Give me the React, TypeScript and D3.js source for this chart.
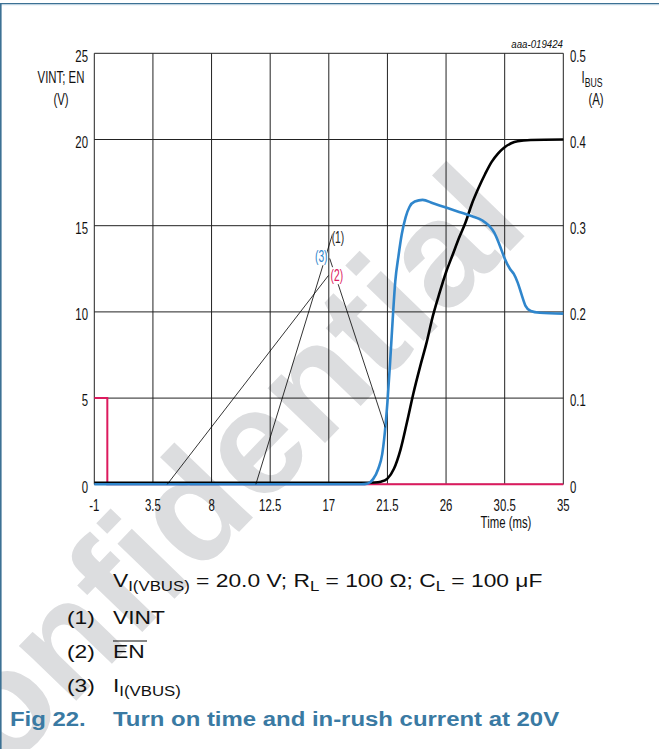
import React from 'react';
import * as d3 from 'd3';

// ---------- data ----------
const xTicks = [-1, 3.5, 8, 12.5, 17, 21.5, 26, 30.5, 35];
const xTickLabels = ['-1', '3.5', '8', '12.5', '17', '21.5', '26', '30.5', '35'];
const yLeftTicks = [0, 5, 10, 15, 20, 25];
const yLeftLabels = ['0', '5', '10', '15', '20', '25'];
const yRightTicks = [0, 0.1, 0.2, 0.3, 0.4, 0.5];
const yRightLabels = ['0', '0.1', '0.2', '0.3', '0.4', '0.5'];

// EN (V)
const enT = [-1, 0, 0, 35];
const enV = [5, 5, 0, 0];

// VINT (V)
const vintT = [-1, 19.5, 20.5, 21, 21.5, 22, 22.5, 23, 23.5, 24, 24.5, 25, 25.5, 26, 26.5, 27, 27.5, 28, 28.5, 29, 29.5, 30, 30.5, 31, 31.5, 32.5, 35];
const vintV = [0.08, 0.08, 0.1, 0.15, 0.33, 0.9, 2.0, 3.6, 5.3, 6.8, 8.2, 9.8, 11.1, 12.3, 13.3, 14.3, 15.2, 16.3, 17.2, 18.0, 18.7, 19.2, 19.55, 19.78, 19.9, 19.97, 20];

// I(VBUS) (A)
const ibusT = [-1, 19.5, 20, 20.4, 20.8, 21.1, 21.3, 21.5, 21.7, 21.9, 22.1, 22.35, 22.6, 22.9, 23.2, 23.6, 24.2, 25, 26, 27, 28, 28.8, 29.3, 29.7, 30.1, 30.5, 30.9, 31.2, 31.5, 31.8, 32.1, 32.5, 33.2, 35];
const ibusA = [0, 0, 0.001, 0.006, 0.018, 0.035, 0.06, 0.095, 0.14, 0.19, 0.235, 0.265, 0.29, 0.31, 0.322, 0.328, 0.33, 0.326, 0.321, 0.316, 0.311, 0.306, 0.3, 0.292, 0.278, 0.262, 0.25, 0.244, 0.234, 0.22, 0.207, 0.201, 0.199, 0.198];

// callouts (in time / left-axis volt units)
const calloutLabels = ['(1)', '(3)', '(2)'];
const calloutColors = ['#222222', '#2f86cc', '#dc1a5e'];
const calloutLabelT = [17.7, 16.42, 17.62];
const calloutLabelV = [14.27, 13.2, 12.1];
const calloutTargetT = [11.4, 21.33, 4.6];
const calloutTargetV = [0, 3.3, 0];
const calloutStartT = [17.3, 17.07, 16.98];
const calloutStartV = [14.55, 13.1, 12.12];

const W = 659;
const H = 749;
const FONT = '"Liberation Sans", Arial, Helvetica, sans-serif';

const x = d3.scaleLinear().domain([-1, 35]).range([94.3, 563.3]);
const y = d3.scaleLinear().domain([0, 25]).range([484.3, 53.3]);
const yR = d3.scaleLinear().domain([0, 0.5]).range([484.3, 53.3]);

type TP = {
  x: number; y: number; sx?: number; size: number; anchor?: 'start' | 'middle' | 'end';
  fill?: string; weight?: string; italic?: boolean; children?: React.ReactNode;
};
const T = ({ x, y, sx = 1, size, anchor = 'start', fill = '#111', weight = 'normal', italic = false, children }: TP) => (
  <g transform={`translate(${x},${y}) scale(${sx},1)`}>
    <text x={0} y={0} fontFamily={FONT} fontSize={size} textAnchor={anchor} fill={fill} fontWeight={weight}
      fontStyle={italic ? 'italic' : 'normal'}>{children}</text>
  </g>
);

export default function App() {
  const mk = (ts: number[], vs: number[], ys: d3.ScaleLinear<number, number>, curve: d3.CurveFactory) =>
    d3.line<number>().x((_, i) => x(ts[i])).y((_, i) => ys(vs[i])).curve(curve)(ts) || '';

  const enPath = mk(enT, enV, y, d3.curveLinear);
  const vintPath = mk(vintT, vintV, y, d3.curveMonotoneX);
  const ibusPath = mk(ibusT, ibusA, yR, d3.curveMonotoneX);

  const x0 = x(-1), x1 = x(35), y0 = y(0), y1 = y(25);
  const CS = 0.67;  // chart text horizontal scale
  const LS = 1.2;   // legend text horizontal scale
  const LF = 19;    // legend font size
  const SF = 14;    // legend subscript size

  return (
    <svg width={W} height={H} viewBox={`0 0 ${W} ${H}`} style={{ position: 'absolute', left: 0, top: 0, background: '#fff' }}>
      <rect x={0} y={0} width={W} height={H} fill="#fff" />
      {/* watermark */}
      <text transform="translate(-70,852) rotate(-46)" fontFamily={FONT} fontWeight="bold" fontSize={150} fill="#dcdddf">Confidential</text>

      {/* grid */}
      {xTicks.map((t, i) => (
        <line key={'vx' + i} x1={x(t)} x2={x(t)} y1={y1} y2={y0} stroke="#222" strokeWidth={1} />
      ))}
      {yLeftTicks.map((v, i) => (
        <line key={'hy' + i} x1={x0} x2={x1} y1={y(v)} y2={y(v)} stroke="#222" strokeWidth={1} />
      ))}

      {/* curves */}
      <path d={enPath} fill="none" stroke="#dc1a5e" strokeWidth={2} />
      <path d={vintPath} fill="none" stroke="#000" strokeWidth={2.6} />
      <path d={ibusPath} fill="none" stroke="#2f86cc" strokeWidth={2.6} />

      {/* callouts */}
      {calloutLabels.map((l, i) => (
        <line key={'cl' + i} x1={x(calloutStartT[i])} y1={y(calloutStartV[i])} x2={x(calloutTargetT[i])} y2={y(calloutTargetV[i])}
          stroke="#000" strokeWidth={0.8} />
      ))}
      {calloutLabels.map((l, i) => (
        <g key={'lb' + i}>
          <rect x={x(calloutLabelT[i]) - 5.5} y={y(calloutLabelV[i]) - 8.5} width={11} height={17} fill="#fff" />
          <T x={x(calloutLabelT[i])} y={y(calloutLabelV[i]) + 5} sx={0.62} size={16.5} anchor="middle" fill={calloutColors[i]}>{l}</T>
        </g>
      ))}

      {/* tick labels */}
      {yLeftTicks.map((v, i) => (
        <T key={'yl' + i} x={88} y={y(v) + 8.3} sx={CS} size={17} anchor="end">{yLeftLabels[i]}</T>
      ))}
      {yRightTicks.map((v, i) => (
        <T key={'yr' + i} x={570} y={yR(v) + 8.3} sx={CS} size={17} anchor="start">{yRightLabels[i]}</T>
      ))}
      {xTicks.map((t, i) => (
        <T key={'xl' + i} x={x(t)} y={510.5} sx={CS} size={17} anchor="middle">{xTickLabels[i]}</T>
      ))}

      {/* axis titles */}
      <T x={61} y={83} sx={CS} size={17} anchor="middle">VINT; EN</T>
      <T x={61} y={105} sx={CS} size={17} anchor="middle">(V)</T>
      <T x={581.5} y={83} sx={CS} size={17}>I<tspan dy={4} fontSize={13}>BUS</tspan></T>
      <T x={596} y={105} sx={CS} size={17} anchor="middle">(A)</T>
      <T x={506} y={527.5} sx={CS} size={17} anchor="middle">Time (ms)</T>
      <T x={563} y={48} sx={0.88} size={11} anchor="end" italic>aaa-019424</T>

      {/* legend */}
      <T x={113} y={587} sx={LS} size={LF}>
        V<tspan dy={4} fontSize={SF}>I(VBUS)</tspan><tspan dy={-4}> = 20.0 V; R</tspan><tspan dy={4} fontSize={SF}>L</tspan>
        <tspan dy={-4}> = 100 Ω; C</tspan><tspan dy={4} fontSize={SF}>L</tspan><tspan dy={-4}> = 100 μF</tspan>
      </T>
      <T x={67} y={624} sx={LS} size={LF}>(1)</T>
      <T x={113} y={624} sx={LS} size={LF}>VINT</T>
      <T x={67} y={658} sx={LS} size={LF}>(2)</T>
      <T x={113} y={658} sx={LS} size={LF}>EN</T>
      <line x1={113} x2={147} y1={641} y2={641} stroke="#111" strokeWidth={1.2} />
      <T x={67} y={692} sx={LS} size={LF}>(3)</T>
      <T x={113} y={692} sx={LS} size={LF}>I<tspan dy={4} fontSize={SF}>I(VBUS)</tspan></T>

      {/* caption */}
      <T x={10} y={726} sx={1.14} size={21} weight="bold" fill="#3a7aa3">Fig 22.</T>
      <T x={113} y={726} sx={1.14} size={21} weight="bold" fill="#3a7aa3">Turn on time and in-rush current at 20V</T>

      {/* frame */}
      <rect x={0} y={3} width={W} height={1.2} fill="#3c7194" />
      <rect x={0} y={4.2} width={W} height={1} fill="#b9cfdf" />
      <rect x={0} y={3} width={1.6} height={H - 3} fill="#3c7194" />
    </svg>
  );
}
